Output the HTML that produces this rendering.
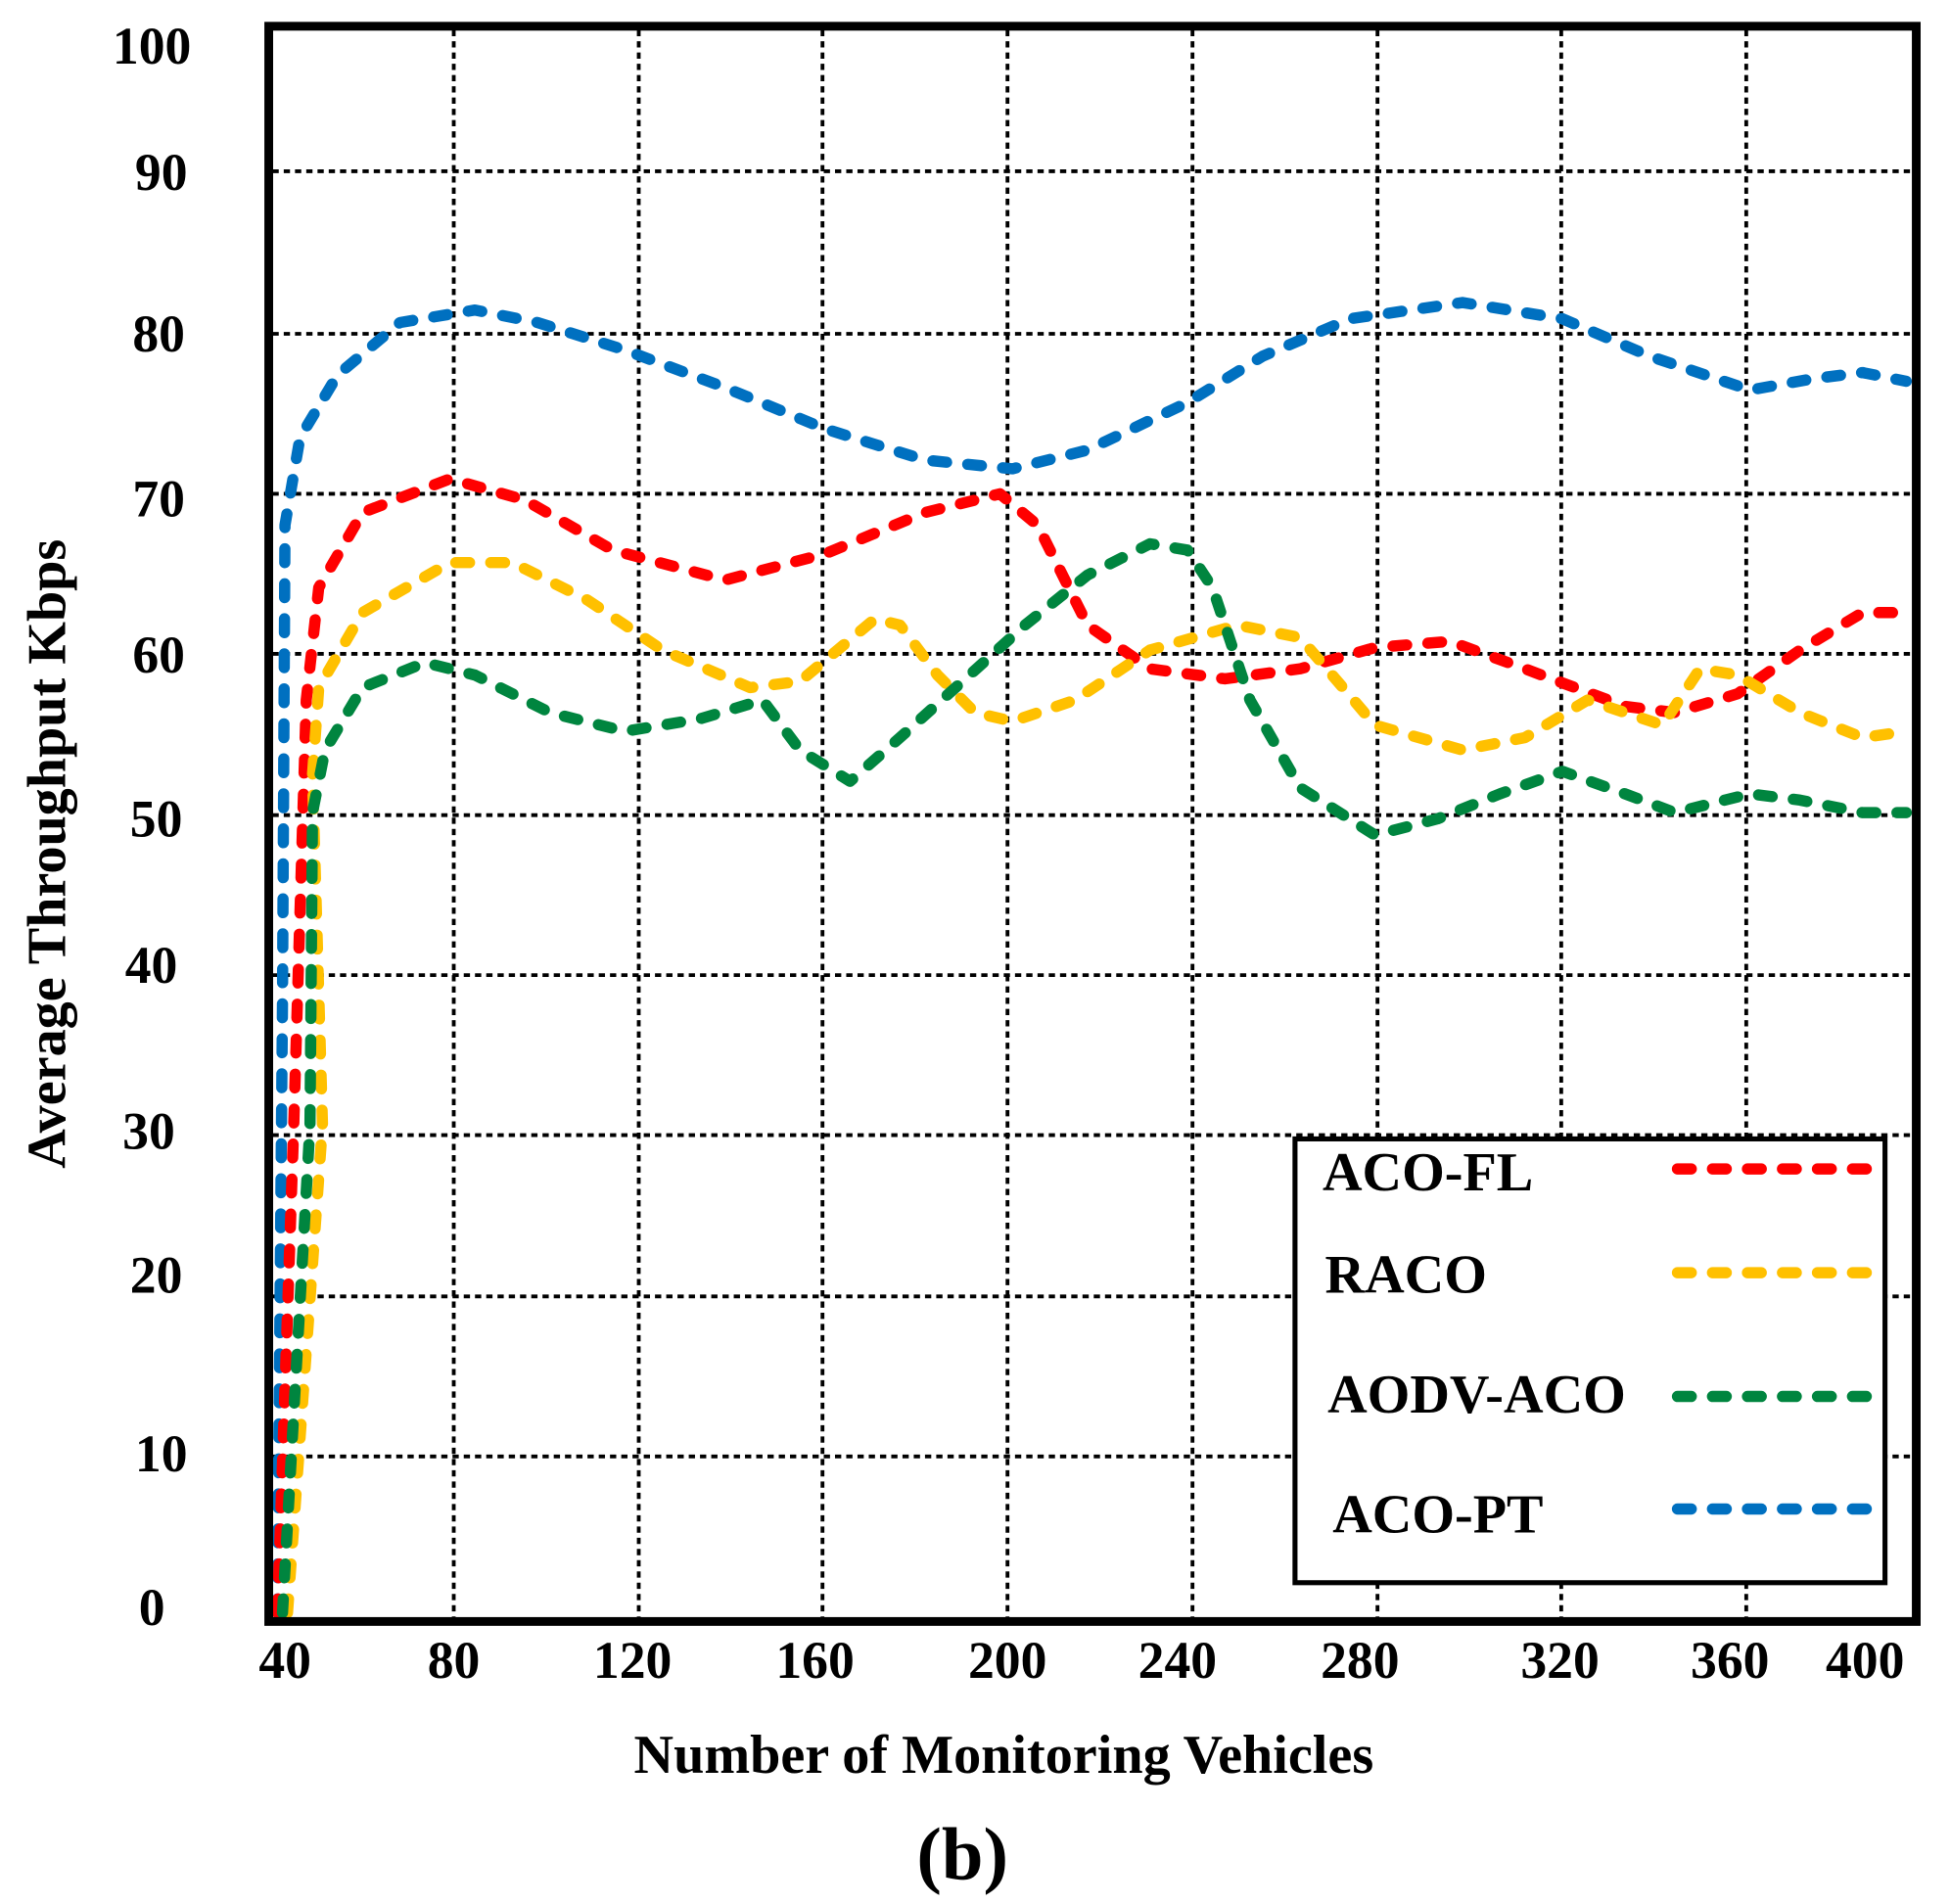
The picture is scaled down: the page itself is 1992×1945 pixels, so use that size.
<!DOCTYPE html>
<html><head><style>html,body{margin:0;padding:0;background:#fff}svg{display:block}</style></head><body>
<svg width="1992" height="1945" viewBox="0 0 1560 1523" preserveAspectRatio="none" xmlns="http://www.w3.org/2000/svg" font-family="Liberation Serif, serif" font-weight="bold">
<rect width="1560" height="1523" fill="#fff"/>
<g stroke="#000" stroke-width="3" stroke-dasharray="5 4">
<line x1="363" y1="24" x2="363" y2="1294"/><line x1="511" y1="24" x2="511" y2="1294"/><line x1="658" y1="24" x2="658" y2="1294"/><line x1="806" y1="24" x2="806" y2="1294"/><line x1="954" y1="24" x2="954" y2="1294"/><line x1="1102" y1="24" x2="1102" y2="1294"/><line x1="1249" y1="24" x2="1249" y2="1294"/><line x1="1397" y1="24" x2="1397" y2="1294"/>
<line x1="218" y1="137" x2="1530" y2="137"/><line x1="218" y1="267" x2="1530" y2="267"/><line x1="218" y1="395" x2="1530" y2="395"/><line x1="218" y1="523" x2="1530" y2="523"/><line x1="218" y1="652" x2="1530" y2="652"/><line x1="218" y1="780" x2="1530" y2="780"/><line x1="218" y1="908" x2="1530" y2="908"/><line x1="218" y1="1037" x2="1530" y2="1037"/><line x1="218" y1="1165" x2="1530" y2="1165"/>
</g>
<g fill="none" stroke-width="9" stroke-dasharray="11 17" stroke-linecap="round" stroke-linejoin="round">
<polyline stroke="#0070C0" points="222,1290 226,800 228,420 240,350 270,300 320,258 380,248 430,258 500,280 580,310 660,343 740,368 810,375 870,360 950,322 1010,285 1080,255 1170,242 1250,255 1320,285 1400,312 1450,303 1490,298 1525,305"/>
<polyline stroke="#FF0000" points="222,1290 235,900 245,560 255,470 290,410 360,383 420,400 490,440 580,464 660,443 740,410 800,395 830,420 870,500 920,535 980,543 1040,535 1100,518 1160,513 1220,535 1300,565 1340,570 1390,555 1440,520 1490,490 1525,490"/>
<polyline stroke="#FFC000" points="230,1290 258,900 250,620 255,550 290,490 360,450 410,450 470,480 530,520 600,550 640,545 700,495 720,500 750,540 780,570 810,577 860,560 920,520 990,500 1040,510 1100,580 1170,600 1220,590 1270,560 1330,580 1360,535 1390,540 1440,570 1490,590 1525,585"/>
<polyline stroke="#00853F" points="226,1290 248,900 250,650 260,600 290,550 340,530 380,540 440,570 500,585 560,575 610,560 640,600 680,625 720,590 770,545 820,500 870,460 920,435 950,440 970,470 1000,560 1040,630 1100,668 1150,655 1200,635 1250,617 1300,635 1340,650 1400,635 1440,640 1490,650 1525,650"/>
</g>
<rect x="215" y="21" width="1318" height="1276" fill="none" stroke="#000" stroke-width="7"/>
<rect x="1036" y="911" width="472" height="355" fill="#fff" stroke="#000" stroke-width="4"/>
<g font-size="44">
<text x="1058" y="952">ACO-FL</text><text x="1060" y="1034">RACO</text><text x="1062" y="1130">AODV-ACO</text><text x="1066" y="1226">ACO-PT</text>
</g>
<g fill="none" stroke-width="9" stroke-dasharray="11 17" stroke-linecap="round">
<line x1="1342" y1="935" x2="1505" y2="935" stroke="#FF0000"/>
<line x1="1342" y1="1018" x2="1505" y2="1018" stroke="#FFC000"/>
<line x1="1342" y1="1117" x2="1505" y2="1117" stroke="#00853F"/>
<line x1="1342" y1="1207" x2="1505" y2="1207" stroke="#0070C0"/>
</g>
<g font-size="42" text-anchor="end">
<text x="153" y="51">100</text><text x="150" y="152">90</text><text x="148" y="281">80</text><text x="148" y="413">70</text><text x="148" y="538">60</text><text x="146" y="669">50</text><text x="142" y="786">40</text><text x="140" y="919">30</text><text x="146" y="1034">20</text><text x="150" y="1177">10</text><text x="132" y="1300">0</text>
</g>
<g font-size="42" text-anchor="middle">
<text x="228" y="1342">40</text><text x="363" y="1342">80</text><text x="506" y="1342">120</text><text x="652" y="1342">160</text><text x="806" y="1342">200</text><text x="942" y="1342">240</text><text x="1088" y="1342">280</text><text x="1248" y="1342">320</text><text x="1384" y="1342">360</text><text x="1492" y="1342">400</text>
</g>
<text x="803" y="1418" font-size="44" text-anchor="middle">Number of Monitoring Vehicles</text>
<text transform="translate(52,683) rotate(-90)" font-size="44" text-anchor="middle">Average Throughput Kbps</text>
<text x="770" y="1503" font-size="60" text-anchor="middle">(b)</text>
</svg>
</body></html>
